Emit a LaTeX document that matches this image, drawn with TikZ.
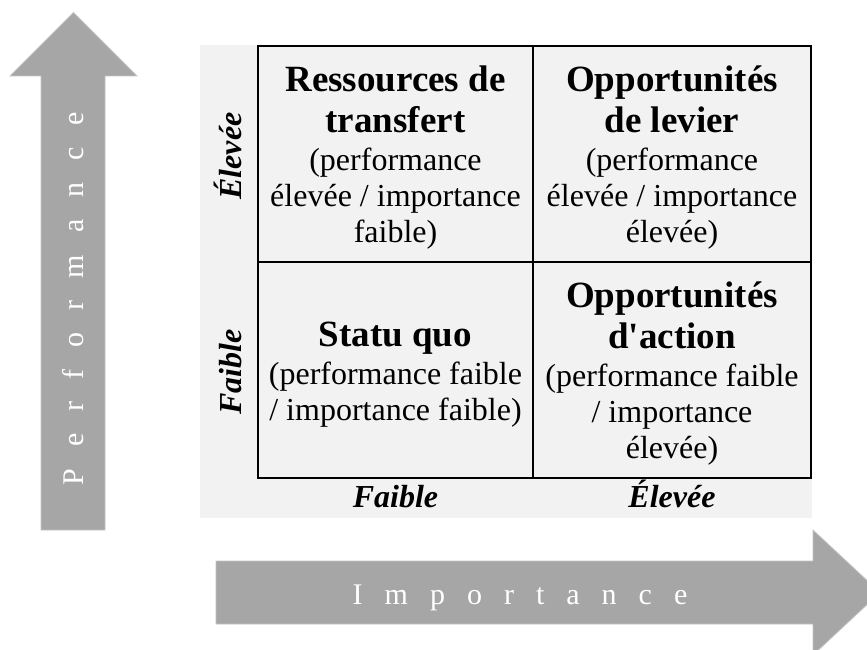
\documentclass[tikz,border=0pt]{standalone}
\usepackage{fontspec}
\setmainfont{Liberation Serif}
\definecolor{arrowgray}{HTML}{A6A6A6}
\definecolor{arrowedge}{HTML}{C4C4C4}
\definecolor{bggray}{HTML}{F2F2F2}
\newcommand\lsp{\hspace{22pt}}
\newcommand\celltext[2]{\centering\spaceskip=0pt\xspaceskip=0pt{\fontsize{37}{41}\selectfont\bfseries #1\par}\vspace{2pt}{\fontsize{32}{36}\selectfont #2\par}}
\begin{document}
\begin{tikzpicture}[x=1pt,y=-1pt,
  arrowshape/.style={fill=arrowgray, draw=arrowedge, line width=0.8pt},
  gridline/.style={line width=2.4pt, draw=black},
  cell/.style={text width=280pt, align=center, anchor=base, inner sep=0pt},
  axislab/.style={font=\fontsize{32}{36}\selectfont\bfseries\itshape, inner sep=0pt, anchor=base},
  arrowlab/.style={text=white, font=\fontsize{30}{34}\selectfont, inner sep=0pt, anchor=base}]
\useasboundingbox (0,0) rectangle (867,650);
\clip (0,0) rectangle (867,650);
% vertical arrow
\draw[arrowshape] (41,530) -- (41,76) -- (10,76) -- (73.5,12.5) -- (137,76) -- (105,76) -- (105,530) -- cycle;
\node[arrowlab, rotate=90] (perf) at (83,298.5) {P\lsp e\lsp r\lsp f\lsp o\lsp r\lsp m\lsp a\lsp n\lsp c\lsp e};
% horizontal arrow
\draw[arrowshape] (216,561) -- (813,561) -- (813,530) -- (880,592.5) -- (813,655) -- (813,624) -- (216,624) -- cycle;
\node[arrowlab] (imp) at (520,604) {I\lsp m\lsp p\lsp o\lsp r\lsp t\lsp a\lsp n\lsp c\lsp e};
% background
\fill[bggray] (200,45) rectangle (812,518);
% grid
\draw[gridline] (258,46) rectangle (811,478);
\draw[gridline] (533,46) -- (533,478);
\draw[gridline] (258,262) -- (811,262);
% cells
\node[cell] (tl) at (395.5,92) {\celltext{Ressources de\\transfert}{(performance\\élevée / importance\\faible)}};
\node[cell] (tr) at (672,92) {\celltext{Opportunités\\de levier}{(performance\\élevée / importance\\élevée)}};
\node[cell] (bl) at (395.5,346) {\celltext{Statu quo}{(performance faible\\/ importance faible)}};
\node[cell] (br) at (672,307) {\celltext{Opportunités\\d\textquotesingle action}{(performance faible\\/ importance\\élevée)}};
% axis labels
\node[axislab, rotate=90] (yhigh) at (241,156) {Élevée};
\node[axislab, rotate=90] (ylow) at (241,372) {Faible};
\node[axislab] (xlow) at (395.5,507) {Faible};
\node[axislab] (xhigh) at (672,507) {Élevée};
\end{tikzpicture}
\end{document}
